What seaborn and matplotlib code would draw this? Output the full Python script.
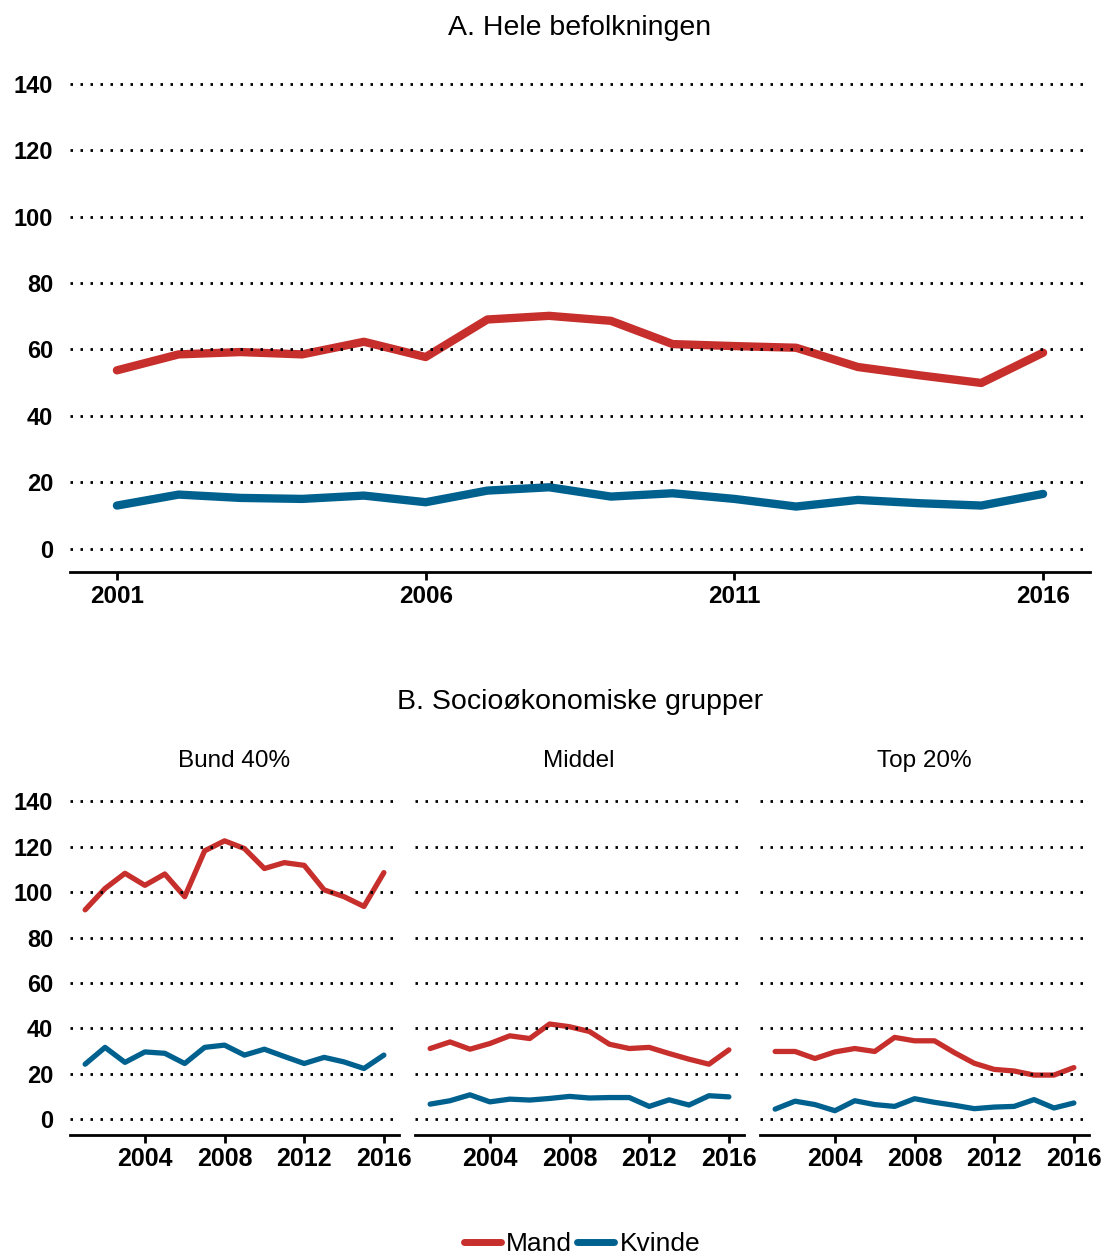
import matplotlib
matplotlib.use('Agg')
import matplotlib.pyplot as plt
import seaborn as sns
import pandas as pd
import numpy as np

# --- data ---
years = list(range(2001, 2017))
series_names = ['Mand', 'Kvinde']
colors = {'Mand': '#c62f2c', 'Kvinde': '#00618f'}

# A. Hele befolkningen
all_mand = [53.7, 58.5, 59.2, 58.5, 62.3, 57.7, 69.0, 70.1, 68.6, 61.6, 61.0, 60.5, 54.7, 52.2, 49.9, 59.0]
all_kvinde = [13.0, 16.3, 15.3, 15.0, 16.0, 14.0, 17.5, 18.5, 15.7, 16.7, 15.0, 12.7, 14.7, 13.7, 13.0, 16.5]

# B. Socioøkonomiske grupper
group_names = ['Bund 40%', 'Middel', 'Top 20%']
bund_mand = [92.2, 101.6, 108.3, 103.0, 108.0, 98.0, 118.2, 122.6, 119.2, 110.4, 113.0, 111.8, 101.0, 98.0, 93.7, 108.6]
bund_kvinde = [24.2, 31.6, 25.0, 29.6, 29.0, 24.5, 31.6, 32.6, 28.2, 30.8, 27.6, 24.5, 27.2, 25.2, 22.3, 28.2]
middel_mand = [31.1, 34.0, 30.8, 33.3, 36.7, 35.5, 41.9, 40.7, 38.6, 33.0, 31.1, 31.6, 28.9, 26.4, 24.2, 30.5]
middel_kvinde = [6.6, 8.1, 10.7, 7.6, 8.8, 8.4, 9.1, 10.0, 9.3, 9.5, 9.5, 5.6, 8.5, 6.2, 10.3, 9.8]
top_mand = [29.8, 29.8, 26.7, 29.6, 31.1, 29.8, 36.0, 34.5, 34.5, 29.3, 24.6, 21.9, 21.2, 19.4, 19.4, 22.7]
top_kvinde = [4.4, 7.9, 6.4, 3.7, 8.1, 6.4, 5.6, 9.0, 7.4, 6.1, 4.6, 5.3, 5.6, 8.6, 4.9, 7.1]

yticks = [0, 20, 40, 60, 80, 100, 120, 140]
xticks_a = [2001, 2006, 2011, 2016]
xticks_b = [2004, 2008, 2012, 2016]


def long_df(mand, kvinde):
    return pd.DataFrame({
        'year': years * 2,
        'value': mand + kvinde,
        'serie': ['Mand'] * len(years) + ['Kvinde'] * len(years),
    })


sns.set_style('white')
plt.rcParams['font.family'] = ['Liberation Sans', 'DejaVu Sans']
plt.rcParams['text.color'] = 'black'
plt.rcParams['xtick.color'] = 'black'
plt.rcParams['ytick.color'] = 'black'
plt.rcParams['xtick.labelcolor'] = 'black'
plt.rcParams['ytick.labelcolor'] = 'black'

W, H = 1107, 1258
fig = plt.figure(figsize=(W / 100, H / 100), dpi=100)


def fig_axes(left, right, top_px, bottom_px):
    return fig.add_axes([left / W, 1 - bottom_px / H, (right - left) / W, (bottom_px - top_px) / H])


def style_axis(ax, xticks, show_y, tick_size):
    ax.set_xlim(2000.24, 2016.76)
    ax.set_ylim(-7, 145)
    for s in ['left', 'right', 'top']:
        ax.spines[s].set_visible(False)
    ax.spines['bottom'].set_linewidth(2)
    ax.spines['bottom'].set_color('black')
    ax.set_yticks(yticks)
    for y in yticks:
        ax.axhline(y, color='black', lw=2.0, ls=(0, (0.9, 2.7)), zorder=5)
    ax.set_xticks(xticks)
    ax.set_xticklabels([str(x) for x in xticks], fontsize=tick_size, fontweight='bold')
    ax.tick_params(axis='x', direction='out', length=6, width=2, color='black', pad=3, bottom=True)
    ax.tick_params(axis='y', length=0, pad=12)
    if show_y:
        ax.set_yticklabels([str(y) for y in yticks], fontsize=17, fontweight='bold')
    else:
        ax.set_yticklabels([])
    ax.set_xlabel('')
    ax.set_ylabel('')


# Panel A
ax_a = fig_axes(70, 1090, 67, 572)
sns.lineplot(data=long_df(all_mand, all_kvinde), x='year', y='value', hue='serie',
             palette=colors, hue_order=series_names, lw=6, ax=ax_a, legend=False)
style_axis(ax_a, xticks_a, True, 17.5)
fig.text(580 / W, 1 - 28 / H, 'A. Hele befolkningen', ha='center', va='center', fontsize=20.5)

# Panel B
fig.text(580 / W, 1 - 702 / H, 'B. Socioøkonomiske grupper', ha='center', va='center', fontsize=20.5)
b_data = [(bund_mand, bund_kvinde), (middel_mand, middel_kvinde), (top_mand, top_kvinde)]
lefts = [70, 415, 760]
for i, (name, (m, k)) in enumerate(zip(group_names, b_data)):
    ax = fig_axes(lefts[i], lefts[i] + 329, 790, 1135)
    sns.lineplot(data=long_df(m, k), x='year', y='value', hue='serie',
                 palette=colors, hue_order=series_names, lw=3.8, ax=ax, legend=False)
    style_axis(ax, xticks_b, i == 0, 18)
    fig.text((lefts[i] + 164) / W, 1 - 761 / H, name, ha='center', va='center', fontsize=17.5)

# legend
handles = [plt.Line2D([0], [0], color=colors[n], lw=5) for n in series_names]
fig.legend(handles, series_names, loc='center', bbox_to_anchor=(582 / W, 1 - 1244 / H),
           ncol=2, frameon=False, fontsize=19, handlelength=1.4, handletextpad=0.2,
           columnspacing=0.2, borderpad=0, borderaxespad=0)

fig.savefig('out.png', dpi=100)
